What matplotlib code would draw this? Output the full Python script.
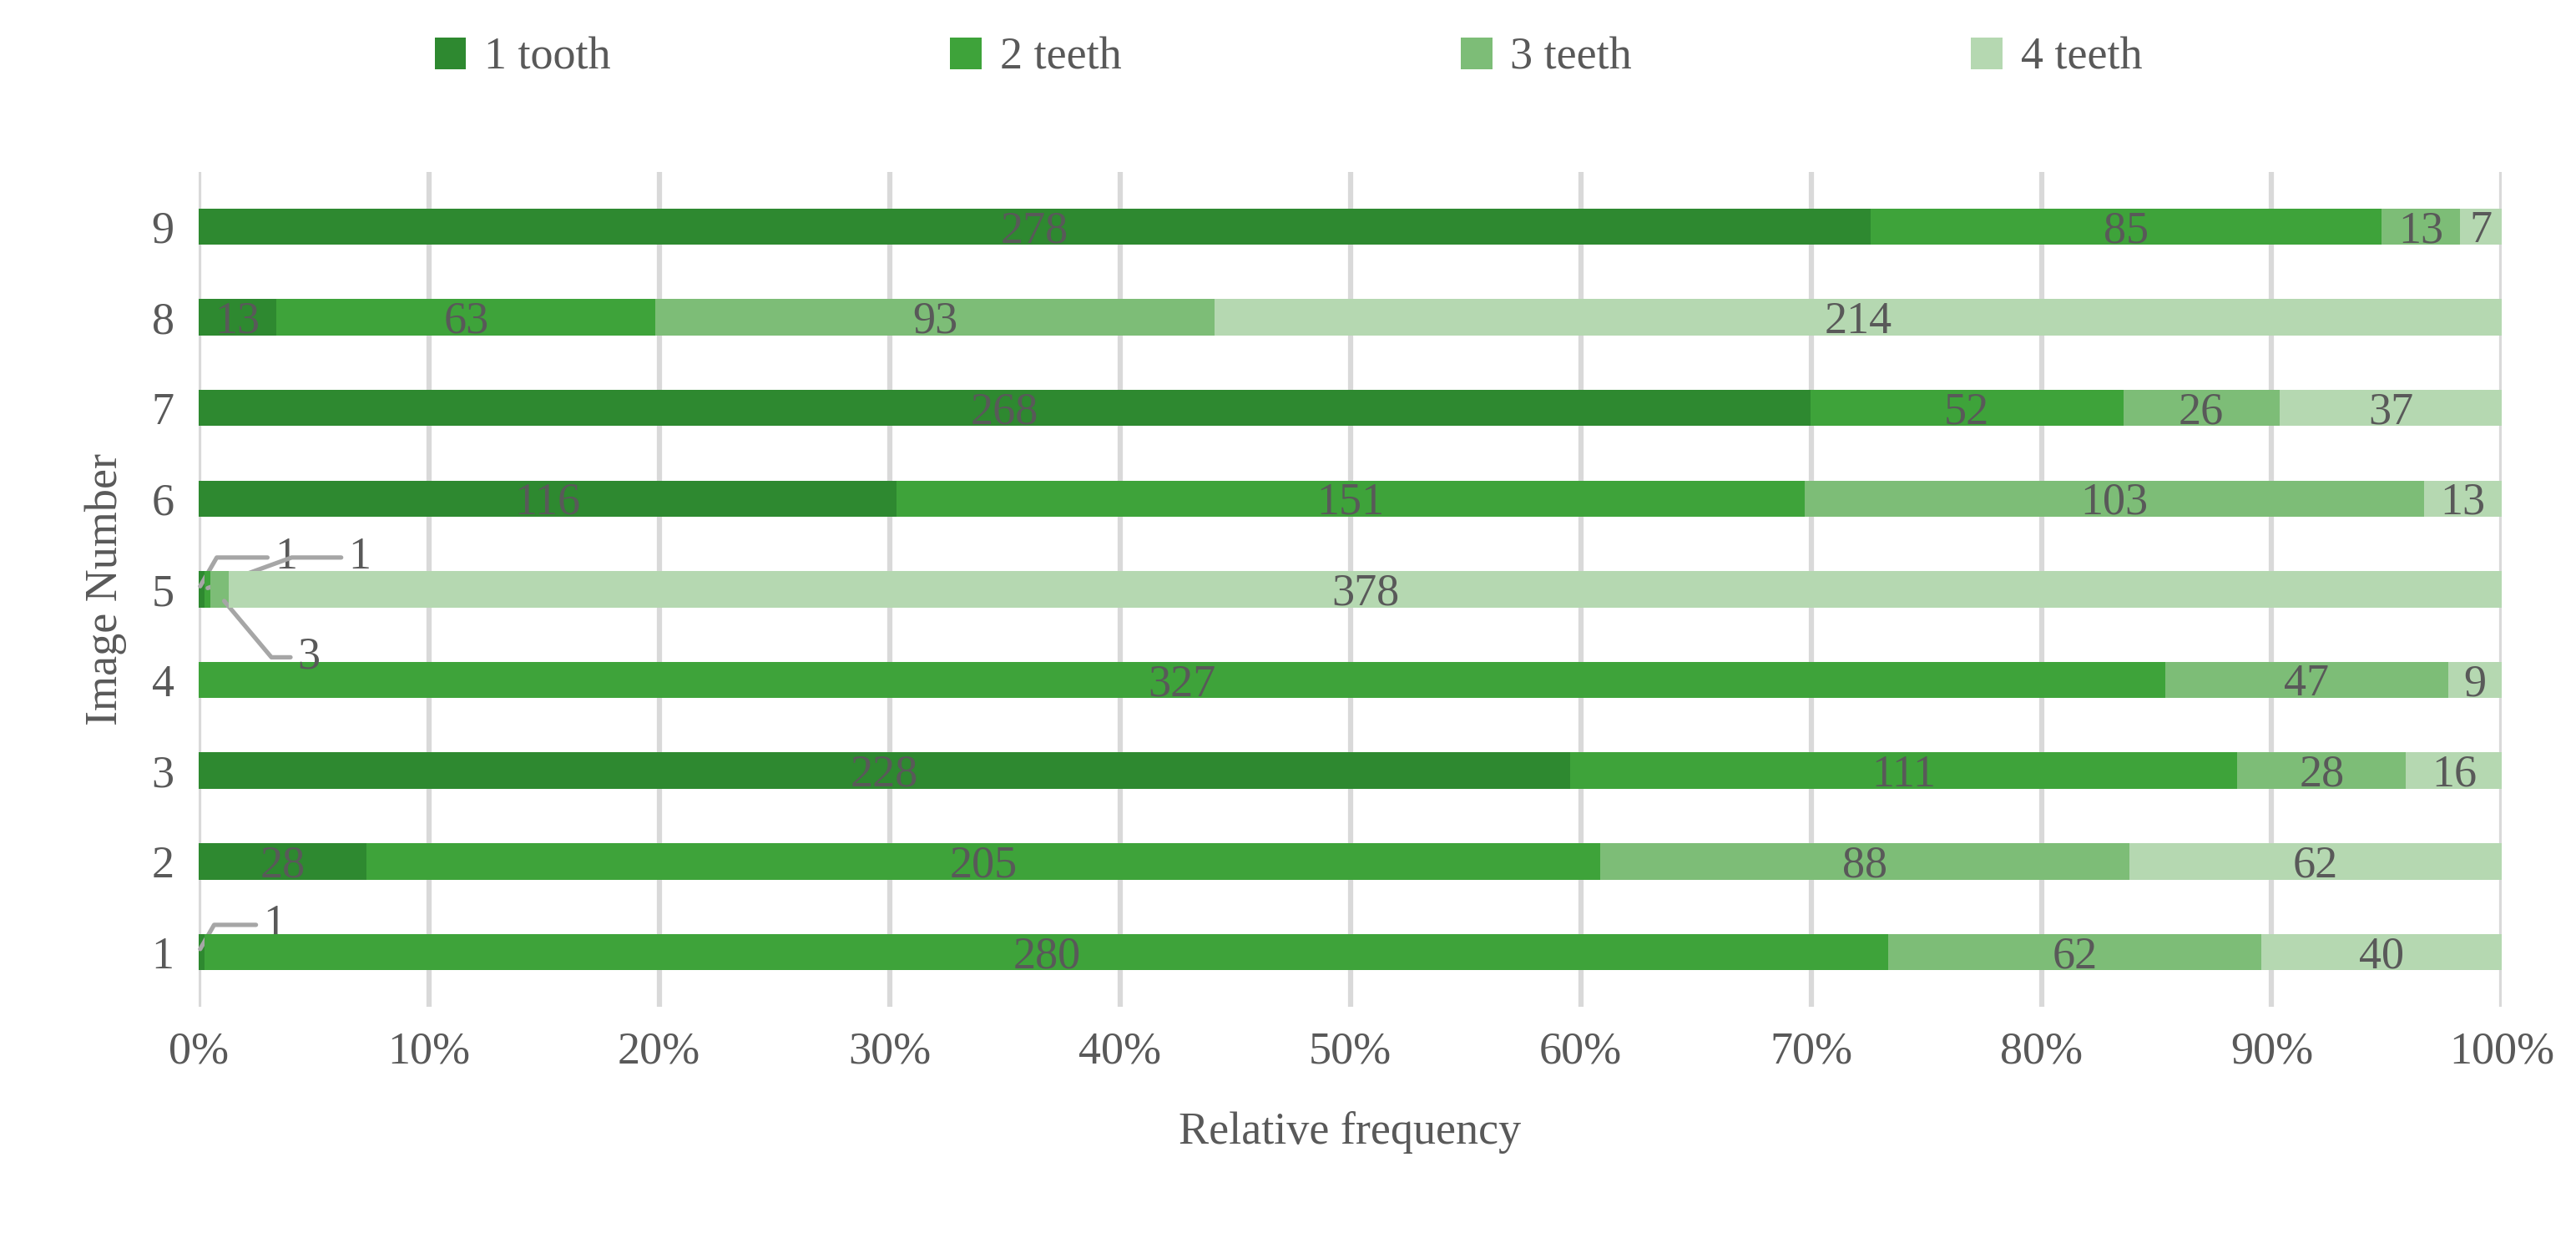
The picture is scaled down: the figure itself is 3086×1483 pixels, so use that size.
import matplotlib
matplotlib.use("Agg")
import matplotlib.pyplot as plt
import numpy as np

images = ["1", "2", "3", "4", "5", "6", "7", "8", "9"]
series_names = ["1 tooth", "2 teeth", "3 teeth", "4 teeth"]
one_tooth = [1, 28, 228, 0, 1, 116, 268, 13, 278]
two_teeth = [280, 205, 111, 327, 1, 151, 52, 63, 85]
three_teeth = [62, 88, 28, 47, 3, 103, 26, 93, 13]
four_teeth = [40, 62, 16, 9, 378, 13, 37, 214, 7]
colors = ["#2e8930", "#3ea33a", "#7dbd77", "#b5d8b1"]
xticks = ["0%", "10%", "20%", "30%", "40%", "50%", "60%", "70%", "80%", "90%", "100%"]

plt.rcParams["font.family"] = "Liberation Serif"
gray = "#595959"
fig = plt.figure(figsize=(20.58, 9.887), dpi=150)
ax = fig.add_axes([0.077, 0.187, 0.894, 0.674])

data = np.array([one_tooth, two_teeth, three_teeth, four_teeth], dtype=float)
tot = data.sum(axis=0)
frac = data / tot * 100
y = np.arange(len(images))
left = np.zeros(len(images))
for i in range(4):
    ax.barh(y, frac[i], left=left, height=0.4, color=colors[i], label=series_names[i], zorder=3)
    for j in range(len(images)):
        v = data[i, j]
        if v == 0:
            continue
        cx = left[j] + frac[i, j] / 2
        if frac[i, j] < 1.0:
            left_edge = left[j]
            # callouts
            if j == 4 and i == 0:
                ax.annotate(str(int(v)), xy=(left_edge, y[j]), xytext=(3.3, y[j] + 0.35),
                            fontsize=26, color=gray, va="center", ha="left",
                            arrowprops=dict(arrowstyle="-", color="#a6a6a6", lw=2.5,
                                            connectionstyle="angle,angleA=0,angleB=60,rad=0"))
            elif j == 4 and i == 1:
                ax.annotate(str(int(v)), xy=(left_edge, y[j]), xytext=(6.5, y[j] + 0.35),
                            fontsize=26, color=gray, va="center", ha="left",
                            arrowprops=dict(arrowstyle="-", color="#a6a6a6", lw=2.5,
                                            connectionstyle="angle,angleA=0,angleB=20,rad=0"))
            elif j == 4 and i == 2:
                ax.annotate(str(int(v)), xy=(left_edge + 0.5, y[j] - 0.1), xytext=(4.3, y[j] - 0.75),
                            fontsize=26, color=gray, va="center", ha="left",
                            arrowprops=dict(arrowstyle="-", color="#a6a6a6", lw=2.5,
                                            connectionstyle="angle,angleA=0,angleB=-50,rad=0"))
            elif j == 0:
                ax.annotate(str(int(v)), xy=(left_edge, y[j]), xytext=(2.8, y[j] + 0.3),
                            fontsize=26, color=gray, va="center", ha="left",
                            arrowprops=dict(arrowstyle="-", color="#a6a6a6", lw=2.5,
                                            connectionstyle="angle,angleA=0,angleB=60,rad=0"))
        else:
            ax.text(cx, y[j] - 0.05, str(int(v)), ha="center", va="center",
                    fontsize=26, color=gray, zorder=4)
    left += frac[i]

ax.set_xlim(0, 100)
ax.set_ylim(-0.6, 8.6)
ax.set_xticks(np.arange(0, 101, 10))
ax.set_xticklabels(xticks, fontsize=26, color=gray)
ax.set_yticks(y)
ax.set_yticklabels(images, fontsize=26, color=gray)
ax.tick_params(length=0, pad=14)
ax.grid(axis="x", color="#d9d9d9", lw=3, zorder=0)
for s in ax.spines.values():
    s.set_visible(False)
ax.set_xlabel("Relative frequency", fontsize=26, color=gray, labelpad=22)
ax.set_ylabel("Image Number", fontsize=26, color=gray, labelpad=14)
fig.legend(loc="center", bbox_to_anchor=(0.5, 0.953), ncol=4, frameon=False,
           fontsize=26, labelcolor=gray, handlelength=0.7, handleheight=0.7,
           columnspacing=7.5, handletextpad=0.4)
fig.savefig("out.png", dpi=150)
